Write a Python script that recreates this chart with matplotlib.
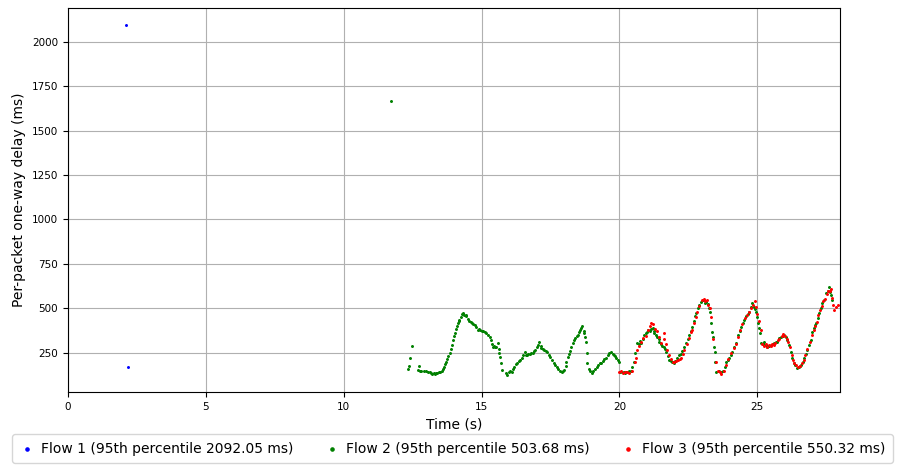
import numpy as np
import matplotlib
matplotlib.use("Agg")
import matplotlib.pyplot as plt

# flow 1 (blue)
flow1_t = [2.10, 2.18]
flow1_d = [2092, 170]

# flow 2 (green)
flow2_t = [11.70,
           12.35, 12.37, 12.39, 12.46, 12.68, 12.72, 12.76, 12.82, 12.90, 12.97, 13.05, 13.12, 13.18, 13.22,
           13.27, 13.30, 13.35, 13.40, 13.45, 13.50, 13.55,
           13.60, 13.64, 13.68, 13.72, 13.76, 13.80, 13.84, 13.88, 13.92, 13.96, 14.00, 14.02, 14.06, 14.10,
           14.14, 14.18, 14.20, 14.24, 14.28, 14.31, 14.34,
           14.38, 14.42, 14.45, 14.50, 14.55, 14.60, 14.64, 14.70, 14.75, 14.80, 14.86, 14.90, 14.93, 15.00,
           15.05, 15.11, 15.16, 15.22, 15.29, 15.33, 15.37, 15.40, 15.45, 15.50, 15.54, 15.58, 15.62, 15.65,
           15.68, 15.72, 15.73, 15.90, 15.94, 15.98, 16.03, 16.09, 16.13, 16.18, 16.24, 16.30, 16.35, 16.40,
           16.45, 16.50, 16.56, 16.60, 16.65, 16.70, 16.75, 16.80, 16.85, 16.90, 16.95, 17.00, 17.05, 17.10,
           17.14, 17.17, 17.22, 17.28, 17.33, 17.39, 17.45, 17.50, 17.57, 17.62, 17.67, 17.72, 17.78, 17.84,
           17.90, 17.95, 18.00, 18.05, 18.08, 18.12, 18.16, 18.20, 18.25, 18.30, 18.35, 18.40, 18.45, 18.48,
           18.52, 18.56, 18.60, 18.66, 18.70, 18.73, 18.76, 18.80, 18.83, 18.84, 18.88, 18.94, 18.99, 19.05,
           19.10, 19.17, 19.22, 19.28, 19.35, 19.40, 19.45, 19.53, 19.58, 19.64, 19.71, 19.76, 19.80, 19.85,
           19.89, 19.94, 20.00, 20.03, 20.10, 20.15, 20.20, 20.25, 20.30, 20.36, 20.42, 20.47, 20.52, 20.58,
           20.65, 20.70, 20.75, 20.80, 20.85, 20.90, 20.95, 21.00, 21.05, 21.10, 21.15, 21.20, 21.24, 21.27,
           21.32, 21.38, 21.42, 21.45, 21.50, 21.55, 21.60, 21.65, 21.70, 21.75, 21.81, 21.86, 21.92, 21.97,
           22.02, 22.10, 22.16, 22.22, 22.28, 22.36, 22.42, 22.48, 22.54, 22.60, 22.64, 22.70, 22.75, 22.79,
           22.85, 22.90, 22.97, 23.03, 23.10, 23.15, 23.20, 23.25, 23.30, 23.33, 23.37, 23.40, 23.44, 23.46,
           23.48, 23.51, 23.60, 23.70, 23.76, 23.82, 23.88, 23.93, 23.99, 24.05, 24.10, 24.17, 24.24, 24.31,
           24.36, 24.42, 24.48, 24.53, 24.60, 24.66, 24.71, 24.77, 24.82, 24.89, 24.93, 24.96, 25.00, 25.04,
           25.08, 25.11, 25.14, 25.20, 25.25, 25.30, 25.36, 25.42, 25.50, 25.56, 25.62, 25.68, 25.72, 25.80,
           25.86, 25.92, 25.98, 26.03, 26.09, 26.16, 26.23, 26.27, 26.33, 26.38, 26.45, 26.50, 26.55, 26.59,
           26.65, 26.70, 26.75, 26.81, 26.88, 26.96, 26.99, 27.05, 27.10, 27.14, 27.20, 27.25, 27.30, 27.36,
           27.43, 27.50, 27.55, 27.61, 27.65, 27.68, 27.72]
flow2_d = [1665,
           160, 177, 222, 289, 154, 177, 150, 148, 146, 147, 143, 140, 136, 132,
           135, 130, 138, 134, 140, 143, 150,
           160, 172, 185, 200, 215, 232, 250, 270, 295, 320, 345, 363, 385, 402,
           418, 430, 436, 452, 466, 475, 470,
           460, 455, 464, 440, 430, 425, 419, 412, 408, 395, 380, 385, 380, 372,
           375, 368, 360, 350, 340, 320, 298, 284, 290, 285, 284, 306, 270, 250,
           225, 194, 154, 135, 126, 140, 150, 143, 160, 172, 185, 195, 205, 210,
           222, 236, 256, 240, 238, 242, 246, 248, 250, 258, 265, 280, 295, 312,
           290, 278, 272, 267, 262, 256, 240, 225, 211, 195, 182, 171, 160, 150,
           143, 145, 154, 175, 200, 228, 245, 262, 285, 306, 320, 332, 345, 351,
           365, 380, 390, 402, 375, 363, 340, 312, 250, 194, 160, 145, 137, 150,
           160, 171, 180, 190, 194, 205, 215, 222, 240, 250, 256, 245, 235, 230,
           222, 210, 200, 143, 140, 142, 138, 143, 140, 145, 150, 171, 200, 250,
           306, 300, 315, 306, 330, 351, 360, 368, 380, 372, 385, 391, 375, 363,
           350, 340, 325, 312, 300, 290, 280, 270, 256, 230, 211, 205, 200, 195,
           205, 222, 235, 245, 262, 284, 305, 330, 351, 375, 396, 430, 455, 475,
           500, 520, 537, 545, 530, 537, 525, 500, 481, 419, 368, 340, 284, 256,
           200, 143, 145, 143, 150, 170, 200, 212, 222, 240, 256, 280, 306, 351,
           370, 396, 418, 436, 455, 470, 481, 505, 531, 509, 495, 481, 450, 419,
           390, 363, 306, 300, 312, 295, 284, 290, 295, 300, 306, 310, 312, 334,
           340, 345, 351, 340, 323, 295, 256, 222, 195, 183, 166, 170, 175, 183,
           200, 222, 245, 267, 295, 323, 368, 390, 405, 419, 445, 475, 500, 531,
           548, 588, 600, 622, 590, 576, 548]

# flow 3 (red)
flow3_t = [20.00, 20.05, 20.12, 20.20, 20.28, 20.35, 20.45, 20.55, 20.60, 20.64, 20.70, 20.78, 20.85, 20.95,
           21.05, 21.10, 21.16, 21.20, 21.28, 21.35, 21.45, 21.52, 21.60, 21.63, 21.68, 21.74, 21.80, 21.88,
           21.94, 21.99, 22.05, 22.12, 22.18, 22.25, 22.30, 22.36, 22.45, 22.52, 22.60, 22.64, 22.72, 22.78,
           22.83, 22.90, 23.00, 23.05, 23.10, 23.18, 23.22, 23.28, 23.32, 23.40, 23.50, 23.56, 23.64, 23.70,
           23.78, 23.86, 23.95, 24.05, 24.15, 24.22, 24.30, 24.38, 24.45, 24.55, 24.62, 24.70, 24.78, 24.85,
           24.90, 24.95, 25.00, 25.06, 25.12, 25.18, 25.24, 25.30, 25.36, 25.42, 25.48, 25.55, 25.60, 25.66,
           25.74, 25.80, 25.88, 25.95, 26.02, 26.08, 26.12, 26.18, 26.25, 26.30, 26.35, 26.42, 26.48, 26.54,
           26.62, 26.68, 26.74, 26.82, 26.90, 26.98, 27.04, 27.10, 27.16, 27.22, 27.28, 27.34, 27.40, 27.46,
           27.52, 27.58, 27.62, 27.66, 27.70, 27.75, 27.80, 27.86, 27.92]
flow3_d = [140, 145, 138, 143, 140, 138, 150, 200, 222, 267, 290, 310, 335, 345,
           380, 400, 419, 410, 385, 370, 340, 306, 330, 363, 300, 267, 240, 215,
           200, 200, 205, 210, 215, 222, 245, 267, 300, 335, 365, 380, 419, 450,
           481, 515, 548, 555, 540, 545, 520, 500, 450, 330, 200, 150, 140, 132,
           150, 180, 215, 250, 275, 300, 340, 380, 410, 445, 465, 480, 500, 520,
           540, 510, 470, 430, 380, 300, 290, 300, 285, 295, 290, 300, 295, 305,
           320, 330, 345, 355, 345, 330, 310, 280, 240, 210, 195, 180, 170, 175,
           190, 210, 235, 270, 310, 350, 380, 400, 425, 460, 490, 515, 540, 555,
           580, 600, 595, 610, 560, 520, 490, 505, 520]

labels = ["Flow 1 (95th percentile 2092.05 ms)",
          "Flow 2 (95th percentile 503.68 ms)",
          "Flow 3 (95th percentile 550.32 ms)"]

fig = plt.figure(figsize=(8.98, 4.66), dpi=100)
ax = fig.add_axes([0.0757, 0.159, 0.8597, 0.824])

ax.scatter(flow1_t, flow1_d, s=1.3, color="blue", label=labels[0])
ax.scatter(flow2_t, flow2_d, s=1.3, color="green", label=labels[1])
ax.scatter(flow3_t, flow3_d, s=1.3, color="red", label=labels[2])

ax.set_xlim(0, 28)
ax.set_ylim(30, 2190)
ax.set_xticks([0, 5, 10, 15, 20, 25])
ax.set_yticks([250, 500, 750, 1000, 1250, 1500, 1750, 2000])
ax.tick_params(labelsize=7.5)
ax.grid(True, color="#b0b0b0", lw=0.8)
ax.set_axisbelow(True)
ax.set_xlabel("Time (s)", fontsize=10)
ax.set_ylabel("Per-packet one-way delay (ms)", fontsize=10)

# legend box spans nearly the full figure width below the axes
fig.legend(loc="lower left", bbox_to_anchor=(0.0134, 0.006, 0.981, 0.06), mode="expand",
           borderaxespad=0, borderpad=0.55, ncol=3, fontsize=10, markerscale=2,
           scatterpoints=1, handlelength=1.0, handletextpad=0.5)

fig.savefig("out.png", dpi=100)
